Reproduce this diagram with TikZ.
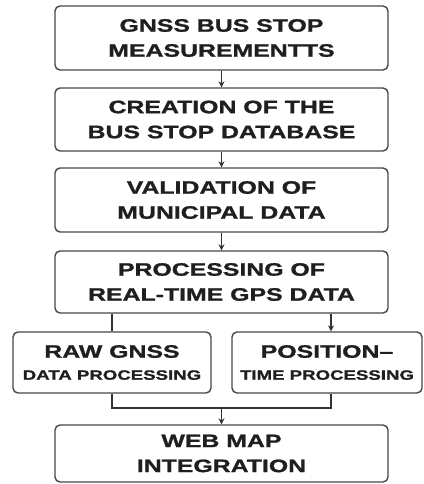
\documentclass[tikz,border=0pt]{standalone}
\usepackage{fontspec}
\newfontfamily\boxfont[FakeStretch=1.38,BoldFeatures={FakeBold=1.2}]{Liberation Sans}
\usetikzlibrary{arrows.meta}
\begin{document}
\begin{tikzpicture}[x=1pt,y=-1pt,
  box/.style={draw=black!72, line width=1.4pt, rounded corners=5pt, fill=white,
    align=center, inner sep=0pt, text=black!88,
    font=\boxfont\bfseries\fontsize{18}{25}\selectfont},
  conn/.style={draw=black!80, line width=1.1pt},
  arr/.style={conn, -{Stealth[length=6pt,width=6pt]}}]
\useasboundingbox[fill=white] (0,0) rectangle (423,484);
\node[box, minimum width=333pt, minimum height=64pt] (b1) at (221.5,38) {GNSS BUS STOP\\MEASUREMENTTS};
\node[box, minimum width=333pt, minimum height=63pt] (b2) at (221.5,119.5) {CREATION OF THE\\BUS STOP DATABASE};
\node[box, minimum width=333pt, minimum height=64pt] (b3) at (221.5,200) {VALIDATION OF\\MUNICIPAL DATA};
\node[box, minimum width=333pt, minimum height=62pt] (b4) at (221.5,282) {PROCESSING OF\\REAL-TIME GPS DATA};
\node[box, minimum width=198pt, minimum height=61pt] (b5) at (112,362.5) {RAW GNSS\\[-3pt]{\fontsize{13.5}{16}\selectfont DATA PROCESSING}};
\node[box, minimum width=190pt, minimum height=61pt] (b6) at (327,362.5) {POSITION\textendash\\[-3pt]{\fontsize{13.5}{16}\selectfont TIME PROCESSING}};
\node[box, minimum width=333pt, minimum height=57pt] (b7) at (221.5,453.5) {WEB MAP\\INTEGRATION};
\coordinate (j) at (221.5,408);
\draw[arr] (b1) -- (b2);
\draw[arr] (b2) -- (b3);
\draw[arr] (b3) -- (b4);
\draw[conn] (b5.north |- b4.south) -- (b5.north);
\draw[arr] ([xshift=4pt]b6.north |- b4.south) -- ([xshift=4pt]b6.north);
\draw[conn] (b5.south) -- (b5.south |- j) -| ([xshift=4pt]b6.south);
\draw[arr] (j) -- (b7);
\end{tikzpicture}
\end{document}
